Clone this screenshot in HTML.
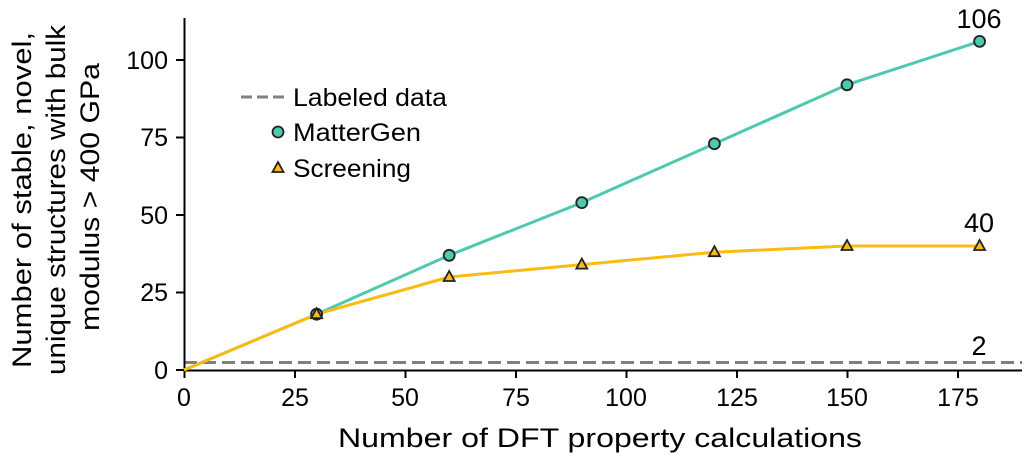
<!DOCTYPE html>
<html><head><meta charset="utf-8"><style>html,body{margin:0;padding:0;background:#fff}</style></head>
<body>
<svg width="1024" height="459" xmlns="http://www.w3.org/2000/svg" font-family="'Liberation Sans', sans-serif" fill="#000">
<rect width="1024" height="459" fill="#fff"/>
<line x1="184" y1="362.5" x2="1022" y2="362.5" stroke="#808080" stroke-width="3" stroke-dasharray="13,6"/>
<g stroke="#000" stroke-width="2">
<line x1="184.5" y1="18" x2="184.5" y2="371"/>
<line x1="184" y1="370.5" x2="1022" y2="370.5"/>
<line x1="176" y1="60" x2="184" y2="60"/><line x1="176" y1="137.5" x2="184" y2="137.5"/><line x1="176" y1="215" x2="184" y2="215"/><line x1="176" y1="292.5" x2="184" y2="292.5"/><line x1="176" y1="370" x2="184" y2="370"/>
<line x1="184.5" y1="370" x2="184.5" y2="378"/><line x1="295" y1="370" x2="295" y2="378"/><line x1="405.5" y1="370" x2="405.5" y2="378"/><line x1="516" y1="370" x2="516" y2="378"/><line x1="626.5" y1="370" x2="626.5" y2="378"/><line x1="737" y1="370" x2="737" y2="378"/><line x1="847.5" y1="370" x2="847.5" y2="378"/><line x1="958" y1="370" x2="958" y2="378"/>
</g>
<g font-size="25" text-anchor="end">
<text x="168" y="69">100</text><text x="168" y="146">75</text><text x="168" y="224">50</text><text x="168" y="301">25</text><text x="168" y="379">0</text>
</g>
<g font-size="25" text-anchor="middle">
<text x="184" y="406">0</text><text x="295" y="406">25</text><text x="405" y="406">50</text><text x="516" y="406">75</text><text x="626" y="406">100</text><text x="737" y="406">125</text><text x="847" y="406">150</text><text x="958" y="406">175</text>
<text x="600" y="447" font-size="27" textLength="524" lengthAdjust="spacingAndGlyphs">Number of DFT property calculations</text>
<text x="979" y="28" font-size="27">106</text>
<text x="979" y="232" font-size="27">40</text>
<text x="979" y="355" font-size="27">2</text>
</g>
<g font-size="27" text-anchor="middle">
<text transform="translate(31,200) rotate(-90)" textLength="336" lengthAdjust="spacingAndGlyphs">Number of stable, novel,</text>
<text transform="translate(65,200) rotate(-90)" textLength="350" lengthAdjust="spacingAndGlyphs">unique structures with bulk</text>
<text transform="translate(99,197) rotate(-90)" textLength="268" lengthAdjust="spacingAndGlyphs">modulus &gt; 400 GPa</text>
</g>
<polyline fill="none" stroke="#4ec9b0" stroke-width="3" points="184,370 316.6,314.2 449.2,255.3 581.8,202.6 714.4,143.7 847,84.8 979.6,41.4"/>
<polyline fill="none" stroke="#fbbb10" stroke-width="3" points="184,370 316.6,314.2 449.2,277 581.8,264.6 714.4,252.2 847,246 979.6,246"/>
<g fill="#4ec9b0" stroke="#222" stroke-width="1.8">
<circle cx="316.6" cy="314.2" r="5.5"/><circle cx="449.2" cy="255.3" r="5.5"/><circle cx="581.8" cy="202.6" r="5.5"/><circle cx="714.4" cy="143.7" r="5.5"/><circle cx="847" cy="84.8" r="5.5"/><circle cx="979.6" cy="41.4" r="5.5"/>
</g>
<g fill="#fbbb10" stroke="#222" stroke-width="1.8">
<polygon points="316.6,308.2 322.1,318.2 311.1,318.2"/><polygon points="449.2,271 454.7,281 443.7,281"/><polygon points="581.8,258.6 587.3,268.6 576.3,268.6"/><polygon points="714.4,246.2 719.9,256.2 708.9,256.2"/><polygon points="847,240 852.5,250 841.5,250"/><polygon points="979.6,240 985.1,250 974.1,250"/>
</g>
<line x1="241" y1="97" x2="285" y2="97" stroke="#808080" stroke-width="3" stroke-dasharray="11,5"/>
<circle cx="278" cy="132" r="5.5" fill="#4ec9b0" stroke="#222" stroke-width="1.8"/>
<polygon points="278,162 283.5,172 272.5,172" fill="#fbbb10" stroke="#222" stroke-width="1.8"/>
<g font-size="25">
<text x="293" y="106" textLength="154" lengthAdjust="spacingAndGlyphs">Labeled data</text>
<text x="293" y="141" textLength="128" lengthAdjust="spacingAndGlyphs">MatterGen</text>
<text x="293" y="177" textLength="118" lengthAdjust="spacingAndGlyphs">Screening</text>
</g>
</svg>
</body></html>
